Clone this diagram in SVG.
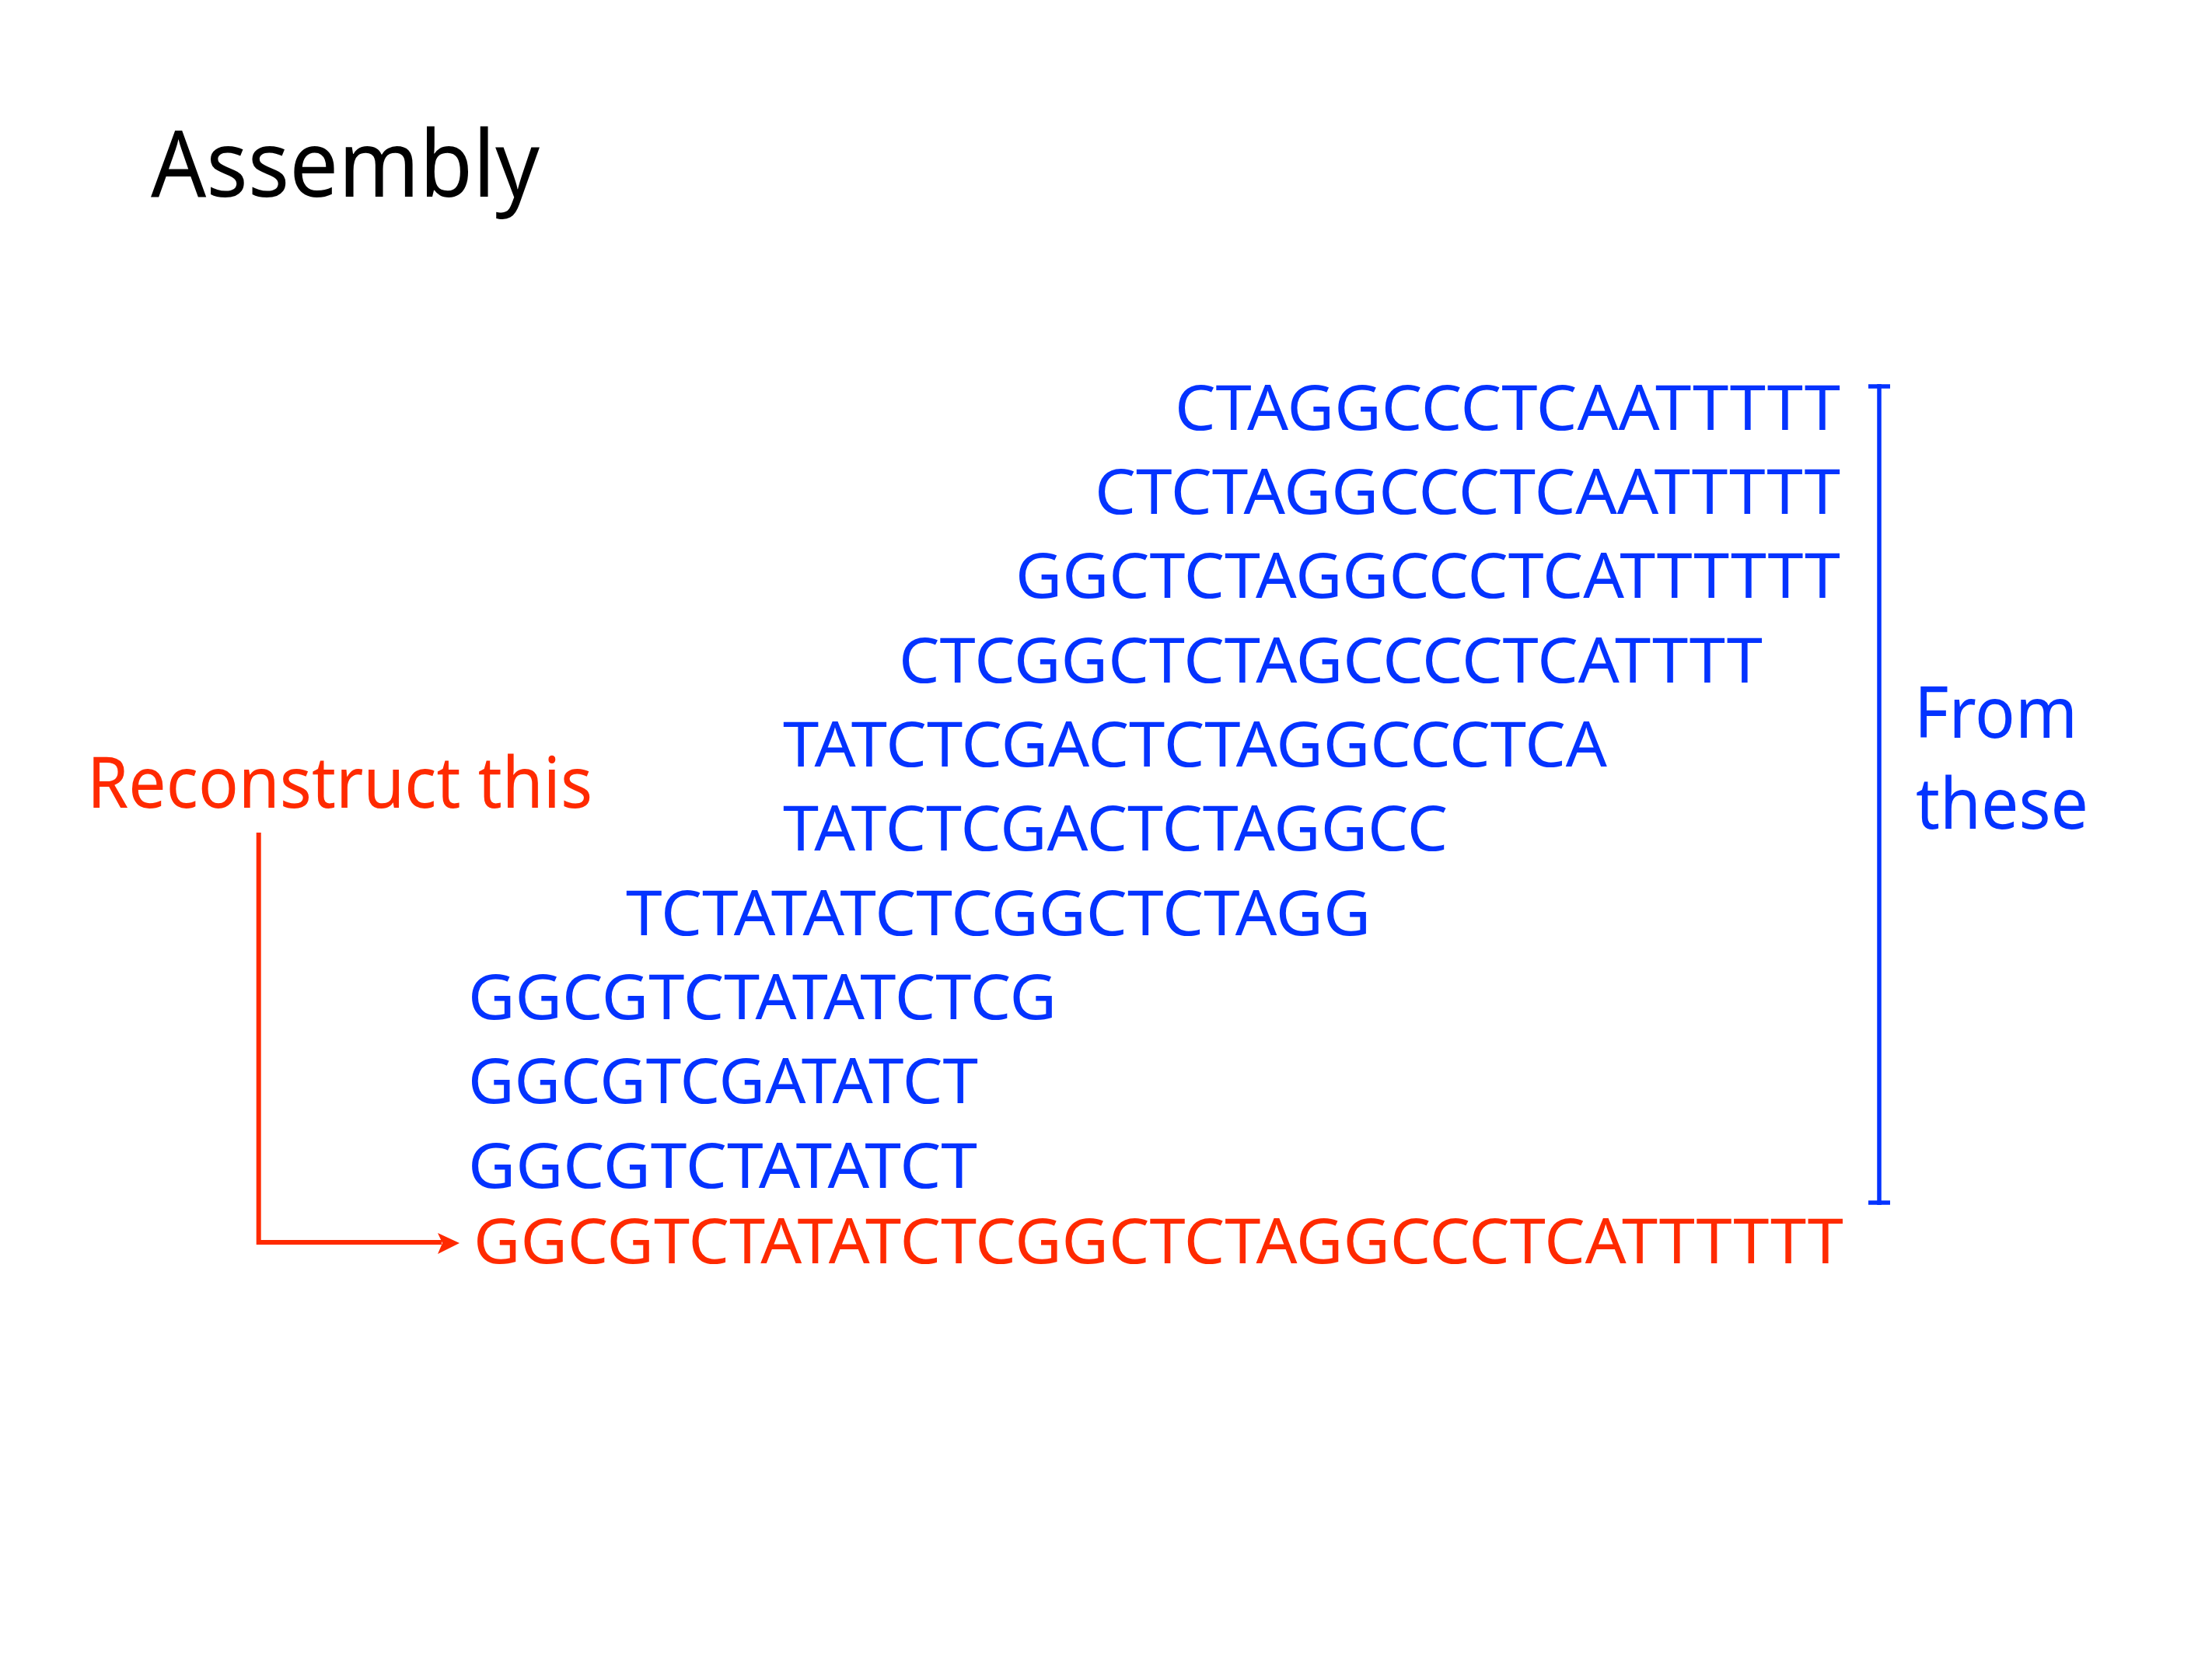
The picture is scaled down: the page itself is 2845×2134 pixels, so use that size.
<svg xmlns="http://www.w3.org/2000/svg" width="2845" height="2134" viewBox="0 0 2845 2134">
<style>
.seq{font-family:"Noto Sans","Open Sans","Liberation Sans",sans-serif;font-size:81px;fill:#0433ff}
.red{fill:#ff2a00}
.title{font-family:"Noto Sans","Open Sans","Liberation Sans",sans-serif;font-size:118px;fill:#000}
.lab{font-family:"Noto Sans","Open Sans","Liberation Sans",sans-serif;font-size:92px}
</style>
<rect width="2845" height="2134" fill="#fff"/>
<g id="title"><text class="title" x="194" y="253" textLength="500" lengthAdjust="spacingAndGlyphs">Assembly</text></g>
<g id="reads">
<text class="seq" x="1511" y="553" textLength="856" lengthAdjust="spacingAndGlyphs">CTAGGCCCTCAATTTTT</text>
<text class="seq" x="1408" y="661" textLength="959" lengthAdjust="spacingAndGlyphs">CTCTAGGCCCTCAATTTTT</text>
<text class="seq" x="1306" y="769" textLength="1061" lengthAdjust="spacingAndGlyphs">GGCTCTAGGCCCTCATTTTTT</text>
<text class="seq" x="1156" y="878" textLength="1111" lengthAdjust="spacingAndGlyphs">CTCGGCTCTAGCCCCTCATTTT</text>
<text class="seq" x="1007" y="986" textLength="1060" lengthAdjust="spacingAndGlyphs">TATCTCGACTCTAGGCCCTCA</text>
<text class="seq" x="1007" y="1094" textLength="855" lengthAdjust="spacingAndGlyphs">TATCTCGACTCTAGGCC</text>
<text class="seq" x="805" y="1203" textLength="958" lengthAdjust="spacingAndGlyphs">TCTATATCTCGGCTCTAGG</text>
<text class="seq" x="602" y="1311" textLength="757" lengthAdjust="spacingAndGlyphs">GGCGTCTATATCTCG</text>
<text class="seq" x="602" y="1419" textLength="656" lengthAdjust="spacingAndGlyphs">GGCGTCGATATCT</text>
<text class="seq" x="602" y="1528" textLength="655" lengthAdjust="spacingAndGlyphs">GGCGTCTATATCT</text>
</g>
<g id="result"><text class="seq red" x="609" y="1625" textLength="1762" lengthAdjust="spacingAndGlyphs">GGCGTCTATATCTCGGCTCTAGGCCCTCATTTTTT</text></g>
<g id="reconstruct-label"><text class="lab" x="112" y="1039" fill="#ff2a00" textLength="650" lengthAdjust="spacingAndGlyphs">Reconstruct this</text></g>
<g id="from-label">
<text class="lab" x="2462" y="949" fill="#0433ff" textLength="210" lengthAdjust="spacingAndGlyphs">From</text>
<text class="lab" x="2464" y="1066" fill="#0433ff" textLength="222" lengthAdjust="spacingAndGlyphs">these</text>
</g>
<g id="connectors">
<path d="M2403 497H2431M2417 494V1550M2403 1547H2431" fill="none" stroke="#0433ff" stroke-width="5.5"/>
<path d="M332.7 1071V1598H568" fill="none" stroke="#ff2a00" stroke-width="6"/>
<polygon points="563,1586 591,1599 563,1613 569,1599" fill="#ff2a00"/>
</g>
</svg>
